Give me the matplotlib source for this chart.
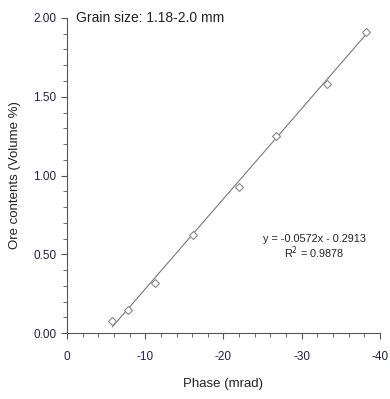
import numpy as np
import matplotlib
matplotlib.use('Agg')
import matplotlib.pyplot as plt
from matplotlib.ticker import MultipleLocator, FormatStrFormatter

plt.rcParams['font.family'] = ['Liberation Sans', 'DejaVu Sans']

phase = [-5.8, -7.8, -11.3, -16.1, -22.0, -26.7, -33.2, -38.2]
ore = [0.08, 0.15, 0.32, 0.62, 0.93, 1.25, 1.58, 1.91]
slope, intercept = -0.0572, -0.2913

fig = plt.figure(figsize=(3.9, 3.99), dpi=100)
ax = fig.add_axes([0.172, 0.165, 0.802, 0.79])

xfit = np.array([min(phase), max(phase)])
ax.plot(xfit, slope * xfit + intercept, color='#777777', linewidth=0.8)
ax.plot(phase, ore, linestyle='none', marker='D', markersize=4.5,
        markerfacecolor='white', markeredgecolor='#888888', markeredgewidth=0.8)

ax.set_xlim(0, -40)
ax.set_ylim(0, 2.0)
ax.xaxis.set_major_locator(MultipleLocator(10))
ax.xaxis.set_minor_locator(MultipleLocator(2))
ax.yaxis.set_major_locator(MultipleLocator(0.5))
ax.yaxis.set_minor_locator(MultipleLocator(0.1))
ax.yaxis.set_major_formatter(FormatStrFormatter('%.2f'))
ax.xaxis.set_major_formatter(FormatStrFormatter('%d'))

for s in ['top', 'right']:
    ax.spines[s].set_visible(False)
for s in ['left', 'bottom']:
    ax.spines[s].set_color('#555555')
    ax.spines[s].set_linewidth(0.8)
ax.tick_params(which='both', colors='#555555', labelsize=8.5, labelcolor='#222244')
ax.tick_params(which='major', length=4)
ax.tick_params(which='minor', length=3)
ax.tick_params(axis='x', pad=9)

ax.set_xlabel('Phase (mrad)', fontsize=9.5, labelpad=11, color='#222222')
ax.set_ylabel('Ore contents (Volume %)', fontsize=9.5, labelpad=9, color='#222222')

ax.text(0.03, 1.0, 'Grain size: 1.18-2.0 mm', transform=ax.transAxes,
        fontsize=10, va='center', ha='left', color='#222222')
ax.text(0.79, 0.272, 'y = -0.0572x - 0.2913\nR$^2$ = 0.9878', transform=ax.transAxes,
        fontsize=7.8, ha='center', va='center', color='#222222', linespacing=1.0)

fig.savefig('out.png', dpi=100)
